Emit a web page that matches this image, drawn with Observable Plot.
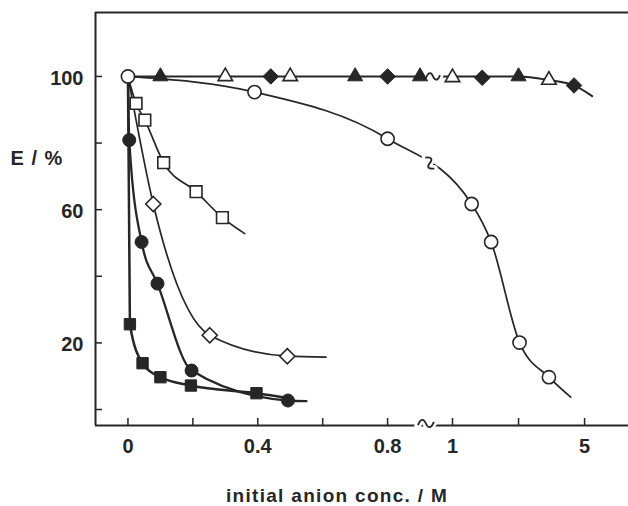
<!DOCTYPE html>
<html>
<head>
<meta charset="utf-8">
<script src="https://cdn.jsdelivr.net/npm/d3@7"></script>
<script src="https://cdn.jsdelivr.net/npm/@observablehq/plot@0.6"></script>
<style>
  html, body { margin: 0; padding: 0; background: #fff; }
  #chart { width: 628px; height: 506px; }
</style>
</head>
<body>
<div id="chart"></div>
<script>
// ---------- data ----------
const xTicks = [0, 0.2, 0.4, 0.6, 0.8, 1, 3, 5];
const xTickLabels = [0, 0.4, 0.8, 1, 5];
const yTicks = [0, 20, 40, 60, 80, 100];
const yTickLabels = [20, 60, 100];

// open circles
const openCircleX = [0, 0.39, 0.80, 1.58, 2.17, 3.03, 3.92];
const openCircleE = [100, 95.3, 81.3, 61.7, 50.3, 20.1, 9.7];
const openCircleFitX = [0, 0.39, 0.80, 1.58, 2.17, 3.03, 3.92, 4.58];
const openCircleFitE = [100, 95.3, 81.3, 61.7, 50.3, 20.1, 9.7, 3.7];

// filled triangles, open triangles, filled diamonds (all ~100 %)
const filledTriangleX = [0.10, 0.70, 0.90, 3.00];
const filledTriangleE = [100, 100, 100, 100];
const openTriangleX = [0.30, 0.50, 1.00, 3.92];
const openTriangleE = [100, 100, 99.7, 98.9];
const filledDiamondX = [0.44, 0.80, 1.90, 4.68];
const filledDiamondE = [100, 100, 99.6, 97.3];
const topFitX = [0, 3.00, 3.92, 4.68, 5.23];
const topFitE = [100, 100, 98.9, 97.3, 94.1];

// open squares
const openSquareX = [0.025, 0.052, 0.11, 0.21, 0.291];
const openSquareE = [91.9, 86.9, 74.1, 65.4, 57.6];
const openSquareFitX = [0, 0.025, 0.052, 0.11, 0.21, 0.291, 0.36];
const openSquareFitE = [100, 91.9, 86.9, 74.1, 65.4, 57.6, 52.8];

// open diamonds
const openDiamondX = [0.078, 0.252, 0.491];
const openDiamondE = [61.7, 22.3, 16.0];
const openDiamondFitX = [0, 0.078, 0.252, 0.491, 0.61];
const openDiamondFitE = [100, 61.7, 22.3, 16.0, 15.7];

// filled circles
const filledCircleX = [0.004, 0.042, 0.091, 0.196, 0.493];
const filledCircleE = [80.9, 50.3, 37.8, 11.7, 2.7];
const filledCircleFitX = [0, 0.004, 0.042, 0.091, 0.196, 0.493, 0.55];
const filledCircleFitE = [100, 80.9, 50.3, 37.8, 11.7, 2.7, 2.5];

// filled squares
const filledSquareX = [0.006, 0.045, 0.10, 0.194, 0.396];
const filledSquareE = [25.6, 13.9, 9.7, 7.2, 4.9];
const filledSquareFitX = [0, 0.006, 0.045, 0.10, 0.194, 0.396, 0.50];
const filledSquareFitE = [100, 25.6, 13.9, 9.7, 7.2, 4.9, 3.4];

// axis / curve break marks ("~")
const axisBreakX = [0.918];
const lineBreakX = [0.94, 0.93];
const lineBreakE = [100, 74];
const lineBreakRotate = [0, 62];

const xLabel = "initial anion conc. / M";
const yLabel = "E / %";

// ---------- helpers ----------
const pts = (xs, es) => xs.map((v, i) => ({x: v, e: es[i]}));
const ink = "#262626";
const font = "'Liberation Sans', Arial, Helvetica, sans-serif";

const xDomain = [-0.1, 1, 6.33];
const xRange = [95, 452, 628];
const yDomain = [-4.8, 119.2];

// custom "~" break symbol
const tilde = {
  draw(ctx, size) {
    const r = Math.sqrt(size / Math.PI);
    ctx.moveTo(-r, 0.2 * r);
    ctx.bezierCurveTo(-0.6 * r, -0.8 * r, -0.2 * r, -0.5 * r, 0, 0);
    ctx.bezierCurveTo(0.2 * r, 0.5 * r, 0.6 * r, 0.8 * r, r, -0.2 * r);
  }
};

const fitLine = (xs, es, w) => Plot.line(pts(xs, es), {
  x: "x", y: "e", curve: "monotone-x", stroke: ink, strokeWidth: w
});

const plot = Plot.plot({
  width: 628,
  height: 506,
  marginLeft: 95,
  marginRight: 0,
  marginTop: 12,
  marginBottom: 81,
  style: {background: "#fff", fontFamily: font, fontSize: "20px", fontWeight: "bold", color: ink},
  x: {type: "linear", domain: xDomain, range: xRange, axis: null},
  y: {type: "linear", domain: yDomain, axis: null},
  marks: [
    // frame lines
    Plot.ruleX([xDomain[0]], {stroke: ink, strokeWidth: 2}),
    Plot.ruleY([yDomain[1]], {stroke: ink, strokeWidth: 2}),
    Plot.ruleY([yDomain[0]], {stroke: ink, strokeWidth: 2}),
    // inward ticks
    Plot.axisX(xTicks, {tickSize: 7, dy: -7, fill: "none", label: null, strokeWidth: 1.5}),
    Plot.axisY(yTicks, {tickSize: 7, dx: 7, fill: "none", label: null, strokeWidth: 1.5}),
    // tick labels
    Plot.axisX(xTickLabels, {tickSize: 0, tickPadding: 13, label: null, tickFormat: d => String(d)}),
    Plot.axisY(yTickLabels, {tickSize: 0, tickPadding: 12, dy: 2, label: null, tickFormat: d => String(d)}),
    // fitted curves
    fitLine(topFitX, topFitE, 2),
    fitLine(openCircleFitX, openCircleFitE, 1.7),
    fitLine(openSquareFitX, openSquareFitE, 1.7),
    fitLine(openDiamondFitX, openDiamondFitE, 1.7),
    fitLine(filledCircleFitX, filledCircleFitE, 2.3),
    fitLine(filledSquareFitX, filledSquareFitE, 2.5),
    // break marks: white halo then the "~"
    Plot.dot(axisBreakX, {x: d => d, frameAnchor: "bottom", dy: -2, symbol: tilde, r: 8,
      fill: "none", stroke: "white", strokeWidth: 7, strokeLinecap: "round"}),
    Plot.dot(axisBreakX, {x: d => d, frameAnchor: "bottom", dy: -2, symbol: tilde, r: 8,
      fill: "none", stroke: ink, strokeWidth: 1.8}),
    Plot.dot(lineBreakX, {x: d => d, y: (d, i) => lineBreakE[i], rotate: (d, i) => lineBreakRotate[i], symbol: tilde, r: 7,
      fill: "none", stroke: "white", strokeWidth: 7, strokeLinecap: "round"}),
    Plot.dot(lineBreakX, {x: d => d, y: (d, i) => lineBreakE[i], rotate: (d, i) => lineBreakRotate[i], symbol: tilde, r: 7,
      fill: "none", stroke: ink, strokeWidth: 1.8}),
    // markers
    Plot.dot(pts(filledTriangleX, filledTriangleE), {x: "x", y: "e", symbol: "triangle", r: 5.6, fill: ink, stroke: ink, strokeWidth: 1}),
    Plot.dot(pts(openTriangleX, openTriangleE), {x: "x", y: "e", symbol: "triangle", r: 5.4, fill: "white", stroke: ink, strokeWidth: 1.6}),
    Plot.dot(pts(filledDiamondX, filledDiamondE), {x: "x", y: "e", symbol: "diamond2", r: 7, fill: ink, stroke: ink, strokeWidth: 1}),
    Plot.dot(pts(openSquareX, openSquareE), {x: "x", y: "e", symbol: "square", r: 6.6, fill: "white", stroke: ink, strokeWidth: 1.6}),
    Plot.dot(pts(openDiamondX, openDiamondE), {x: "x", y: "e", symbol: "diamond2", r: 6.8, fill: "white", stroke: ink, strokeWidth: 1.6}),
    Plot.dot(pts(filledSquareX, filledSquareE), {x: "x", y: "e", symbol: "square", r: 6.4, fill: ink, stroke: ink, strokeWidth: 1}),
    Plot.dot(pts(filledCircleX, filledCircleE), {x: "x", y: "e", symbol: "circle", r: 6.5, fill: ink, stroke: ink, strokeWidth: 1}),
    Plot.dot(pts(openCircleX, openCircleE), {x: "x", y: "e", symbol: "circle", r: 6.6, fill: "white", stroke: ink, strokeWidth: 1.6}),
    // axis titles
    Plot.text([yLabel], {frameAnchor: "top-left", dx: -85, dy: 138, textAnchor: "start", fontSize: 20, fontWeight: "bold", fill: ink}),
    Plot.text([xLabel], {frameAnchor: "bottom", dx: -25, dy: 76, lineAnchor: "bottom", fontSize: 19, fontWeight: "bold", fill: ink})
  ]
});

d3.select(plot).selectAll("text").each(function () {
  const t = this.textContent;
  if (t === xLabel) this.setAttribute("letter-spacing", "1.3px");
  if (t === yLabel) this.setAttribute("letter-spacing", "1px");
});

document.getElementById("chart").appendChild(plot);
</script>
</body>
</html>
